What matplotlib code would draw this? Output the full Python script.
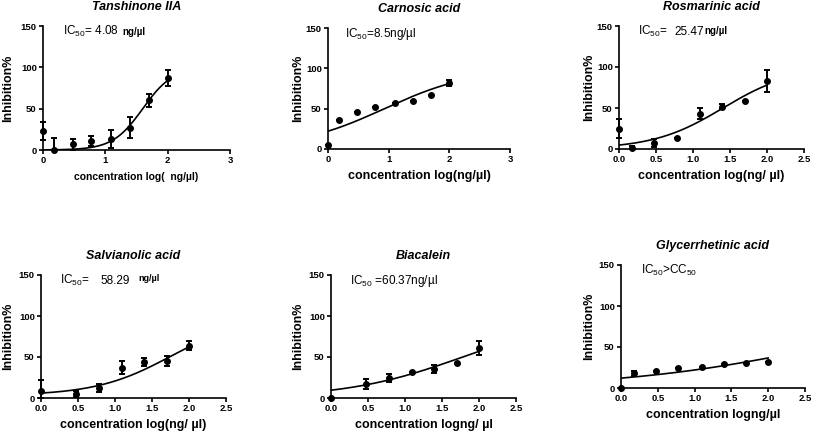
import numpy as np
import matplotlib
matplotlib.use('Agg')
from matplotlib import pyplot as plt

plt.rcParams['font.family'] = ['Liberation Sans', 'DejaVu Sans']
plt.rcParams['mathtext.fontset'] = 'custom'
plt.rcParams['mathtext.rm'] = 'Liberation Sans'
plt.rcParams['mathtext.it'] = 'Liberation Sans:italic'
plt.rcParams['mathtext.bf'] = 'Liberation Sans:bold'

W, H = 813, 434

# log10 of concentrations 1, 1.5, 3, 6, 12.5, 25, 50, 100 ng/ul
x_all = [0, 0.176, 0.477, 0.778, 1.097, 1.398, 1.699, 2.0]
x_no15 = [0, 0.477, 0.778, 1.097, 1.398, 1.699, 2.0]

titles = ['Tanshinone IIA', 'Carnosic acid', 'Rosmarinic acid',
          'Salvianolic acid', 'Biacalein', 'Glycerrhetinic acid']
xlabels = ['concentration log(  ng/\u00b5l)', 'concentration log(ng/\u00b5l)',
           'concentration log(ng/ \u00b5l)', 'concentration log(ng/ \u00b5l)',
           'concentration logng/ \u00b5l', 'concentration logng/\u00b5l']

tan_y = [23, 0, 7, 11, 13, 27, 60, 87]
tan_err = [10.5, 15, 6.5, 6, 11, 13, 8, 10]
car_y = [5, 36, 46, 52, 56.5, 60, 67, 81.5]
car_err = [0, 0, 0, 0, 0, 0, 0, 3.5]
ros_y = [25, 1, 7, 13, 43, 51.5, 59, 83]
ros_err = [11, 3, 5, 0, 7, 3, 0, 13]
sal_y = [9, 5, 12, 37, 44, 45, 64]
sal_err = [13, 4, 5, 8, 5, 6, 5]
bia_y = [0, 17, 24.5, 32, 35, 43, 61]
bia_err = [0, 6, 5, 0, 5, 0, 9]
gly_y = [0, 17.7, 21, 24, 26, 29, 31, 32]
gly_err = [0, 3.5, 0, 0, 0, 0, 0, 0]

xs = [x_all, x_all, x_all, x_no15, x_no15, x_all]
ys = [tan_y, car_y, ros_y, sal_y, bia_y, gly_y]
errs = [tan_err, car_err, ros_err, sal_err, bia_err, gly_err]

# fitted dose-response: bottom, top, logEC50, hill slope
fits = [(0, 100, 1.6, 1.8), (0, 100, 0.93, 0.59), (0, 100, 1.406, 0.925),
        (3, 100, 1.766, 0.85), (0, 100, 1.781, 0.55), (0, 100, 2.76, 0.313)]

xmax = [3, 3, 2.5, 2.5, 2.5, 2.5]

# axes boxes in pixels: left, right, top, bottom
boxes = [(43, 230, 26, 150), (328, 510, 28, 149), (619, 804, 26, 149),
         (41, 226, 275, 398), (331, 516, 275, 398), (621, 805, 265, 388)]
ylab_off = [35, 30, 30, 33, 33, 32]

# IC50 labels: (x, y, text, size, weight)
notes = [
    [(0.32, 143, 'IC$_{50}$= 4.08', 8.5, 'normal'), (1.28, 143, 'ng/\u00b5l', 7, 'bold')],
    [(0.28, 142.6, 'IC$_{50}$=8.5ng/\u00b5l', 8.5, 'normal')],
    [(0.26, 143, 'IC$_{50}$=', 8.5, 'normal'), (0.75, 143, '25.47', 8.5, 'normal'),
     (1.16, 144, 'ng/\u00b5l', 7, 'bold')],
    [(0.25, 143, 'IC$_{50}$=', 8.5, 'normal'), (0.80, 143, '58.29', 8.5, 'normal'),
     (1.31, 146, 'ng/\u00b5l', 6.5, 'bold')],
    [(0.26, 143, 'IC$_{50}$ =60.37ng/\u00b5l', 8.5, 'normal')],
    [(0.27, 143, 'IC$_{50}$>CC$_{50}$', 8.5, 'normal')],
]

fig = plt.figure(figsize=(W / 100, H / 100), dpi=100)

for i in range(6):
    l, r, t, b = boxes[i]
    ax = fig.add_axes([l / W, 1 - b / H, (r - l) / W, (b - t) / H])
    wpx, hpx = r - l, b - t

    bot, top, lec, hill = fits[i]
    xc = np.linspace(0, 2, 200)
    yc = bot + (top - bot) / (1 + 10 ** ((lec - xc) * hill))
    ax.plot(xc, yc, color='black', lw=1.2)

    y = np.array(ys[i], dtype=float)
    e = np.array(errs[i], dtype=float)
    lo = np.minimum(e, y)
    ax.errorbar(xs[i], y, yerr=[lo, e], fmt='o', color='black', ms=4,
                elinewidth=1.4, capsize=2.5, capthick=1.4, clip_on=False, zorder=3)

    ax.set_xlim(0, xmax[i])
    ax.set_ylim(0, 150)
    if xmax[i] == 3:
        ax.set_xticks([0, 1, 2, 3])
        ax.set_xticklabels(['0', '1', '2', '3'])
    else:
        ax.set_xticks([0, 0.5, 1.0, 1.5, 2.0, 2.5])
        ax.set_xticklabels(['0.0', '0.5', '1.0', '1.5', '2.0', '2.5'])
    ax.set_yticks([0, 50, 100, 150])
    ax.spines['top'].set_visible(False)
    ax.spines['right'].set_visible(False)
    for s in ['left', 'bottom']:
        ax.spines[s].set_linewidth(1.2)
    ax.tick_params(direction='out', length=3, width=1.2, pad=1.5, labelsize=6.8)
    for lab in ax.get_xticklabels() + ax.get_yticklabels():
        lab.set_fontweight('bold')

    ax.set_ylabel('Inhibition%', fontsize=9, fontweight='bold', va='center')
    ax.yaxis.set_label_coords(-ylab_off[i] / wpx, 0.5)
    xl_size = 7.5 if i == 0 else 9
    ax.set_xlabel(xlabels[i], fontsize=xl_size, fontweight='bold', va='center')
    ax.xaxis.set_label_coords(0.5, -27 / hpx)

    ax.text(0.5, 1 + 19 / hpx, titles[i], transform=ax.transAxes, ha='center',
            va='center', fontsize=9, fontweight='bold', fontstyle='italic')

    for nx, ny, txt, fs, fw in notes[i]:
        ax.text(nx, ny, txt, ha='left', va='center', fontsize=fs, fontweight=fw)

fig.savefig('out.png', dpi=100)
